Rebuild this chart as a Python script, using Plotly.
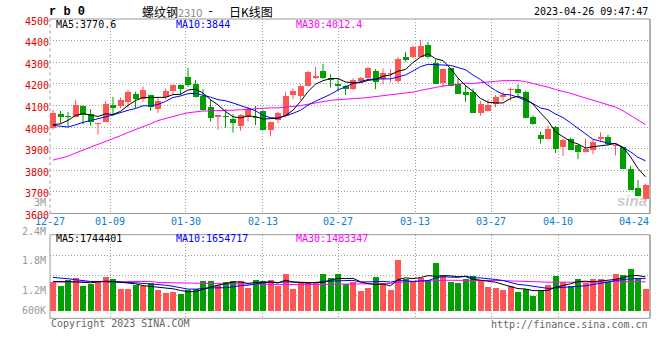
import plotly.graph_objects as go

# ---------------- data ----------------
dates = ["12-27", "12-28", "12-29", "12-30",
         "01-03", "01-04", "01-05", "01-06", "01-09", "01-10", "01-11", "01-12", "01-13",
         "01-16", "01-17", "01-18", "01-19", "01-20", "01-30", "01-31",
         "02-01", "02-02", "02-03", "02-06", "02-07", "02-08", "02-09", "02-10",
         "02-13", "02-14", "02-15", "02-16", "02-17", "02-20", "02-21", "02-22", "02-23", "02-24",
         "02-27", "02-28",
         "03-01", "03-02", "03-03", "03-06", "03-07", "03-08", "03-09", "03-10",
         "03-13", "03-14", "03-15", "03-16", "03-17", "03-20", "03-21", "03-22", "03-23", "03-24",
         "03-27", "03-28", "03-29", "03-30", "03-31",
         "04-03", "04-04", "04-06", "04-07", "04-10", "04-11", "04-12", "04-13", "04-14",
         "04-17", "04-18", "04-19", "04-20", "04-21", "04-24", "04-25", "04-26"]

opens = [3994, 4060, 4052, 4048, 4098, 4060, 4014, 4025, 4101, 4098,
         4117, 4154, 4132, 4148, 4083, 4137, 4165, 4195, 4232, 4198,
         4145, 4091, 4045, 4052, 4037, 4006, 4045, 4048, 4075, 3988,
         4032, 4052, 4148, 4145, 4191, 4225, 4260, 4228, 4198, 4191,
         4175, 4211, 4225, 4260, 4222, 4247, 4211, 4325, 4322, 4326,
         4380, 4298, 4202, 4271, 4198, 4163, 4160, 4065, 4075, 4106,
         4137, 4170, 4178, 4163, 4048, 3961, 3946, 4002, 3908, 3946,
         3915, 3885, 3895, 3943, 3953, 3911, 3908, 3808, 3717, 3666]
highs = [4080, 4075, 4071, 4125, 4100, 4083, 4020, 4121, 4140, 4137,
         4172, 4163, 4188, 4150, 4137, 4178, 4197, 4197, 4274, 4218,
         4175, 4129, 4055, 4083, 4060, 4060, 4094, 4098, 4077, 4025,
         4071, 4163, 4178, 4198, 4260, 4278, 4292, 4245, 4225, 4194,
         4225, 4232, 4278, 4268, 4272, 4268, 4325, 4348, 4378, 4403,
         4395, 4314, 4271, 4271, 4225, 4194, 4178, 4121, 4129, 4148,
         4163, 4183, 4198, 4168, 4055, 3979, 4007, 4005, 3946, 3949,
         3915, 3946, 3941, 3976, 3964, 3923, 3908, 3819, 3755, 3737]
lows = [3988, 4018, 4003, 4045, 4014, 4006, 3965, 4022, 4052, 4086,
        4090, 4086, 4117, 4075, 4065, 4129, 4148, 4148, 4186, 4137,
        4075, 4025, 3988, 3997, 3975, 3983, 4025, 4009, 3985, 3957,
        4018, 4045, 4129, 4126, 4188, 4222, 4222, 4183, 4168, 4148,
        4172, 4206, 4222, 4175, 4198, 4206, 4203, 4302, 4317, 4322,
        4317, 4198, 4183, 4191, 4152, 4117, 4065, 4052, 4072, 4091,
        4122, 4122, 4145, 4040, 4010, 3923, 3943, 3880, 3866, 3895,
        3851, 3882, 3874, 3930, 3915, 3869, 3808, 3709, 3679, 3660]
closes = [4065, 4045, 4045, 4103, 4055, 4025, 4017, 4106, 4089, 4126,
          4163, 4131, 4172, 4094, 4122, 4168, 4195, 4178, 4195, 4140,
          4080, 4040, 4055, 4045, 4018, 4055, 4083, 4042, 3988, 4025,
          4065, 4145, 4168, 4188, 4255, 4237, 4225, 4218, 4188, 4175,
          4217, 4228, 4272, 4209, 4249, 4249, 4314, 4311, 4371, 4375,
          4326, 4198, 4268, 4191, 4152, 4149, 4065, 4106, 4101, 4137,
          4148, 4172, 4157, 4040, 4014, 3945, 3989, 3900, 3938, 3895,
          3885, 3897, 3930, 3953, 3923, 3918, 3808, 3709, 3682, 3732]
volumes = [1497, 1275, 1585, 1688, 1275, 1378, 1533, 1740, 1637, 1120,
           1120, 1327, 1275, 1430, 1069, 914, 965, 862, 1069, 1120,
           1533, 1533, 1327, 1482, 1533, 1533, 1172, 1585, 1533, 1585,
           1275, 1895, 1120, 1430, 1430, 1430, 1895, 1688, 1895, 1378,
           1497, 1017, 1172, 1740, 1430, 1069, 2617, 1637, 1533, 1688,
           1585, 2463, 1791, 1482, 1430, 1637, 1791, 1533, 1224, 1172,
           1069, 1275, 965, 1120, 759, 1069, 1327, 1791, 1482, 1275,
           1637, 1430, 1637, 1637, 1482, 1895, 1843, 2165, 1688, 1120]  # thousand lots

# moving-average values at the left edge (they depend on days before the window)
ma5_head = [4011, 4015, 4031, 4054]
ma10_head = [4008, 4003, 4000, 4010, 4022, 4030, 4037, 4047, 4056]
ma30_head = [3847, 3855, 3865, 3880, 3893, 3906, 3920, 3932, 3945, 3960,
             3975, 3988, 4000, 4015, 4030, 4040, 4050, 4058, 4066, 4071,
             4074, 4075, 4075, 4077, 4078, 4080, 4083, 4086, 4088]
vma5_head = [1510, 1510, 1500, 1490]
vma10_head = [1720, 1700, 1650, 1600, 1540, 1510, 1510, 1500, 1490]
vma30_head = [1480, 1480, 1480, 1480, 1480, 1480, 1480, 1480, 1480, 1480,
              1480, 1480, 1480, 1510, 1460, 1450, 1430, 1430, 1430, 1400,
              1390, 1390, 1390, 1380, 1380, 1390, 1390, 1380, 1370]

date_ticks = ["12-27", "01-09", "01-30", "02-13", "02-27", "03-13", "03-27", "04-10", "04-24"]
price_ticks = [3600, 3700, 3800, 3900, 4000, 4100, 4200, 4300, 4400, 4500]
vol_labels = ["3M", "2.4M", "1.8M", "1.2M", "600K"]

title_code = "r b 0"
title_name = "螺纹钢"
title_contract = "2310"
title_dash = "-"
title_kind = "日K线图"
timestamp = "2023-04-26 09:47:47"
price_legend = ["MA5:3770.6", "MA10:3844", "MA30:4012.4"]
vol_legend = ["MA5:1744401", "MA10:1654717", "MA30:1483347"]


def moving_avg(vals, n, head):
    out = list(head)
    for i in range(len(head), len(vals)):
        out.append(sum(vals[i - n + 1:i + 1]) / n)
    return out


n = len(dates)
idx = list(range(n))
vols = [v * 1000 for v in volumes]
ma5 = moving_avg(closes, 5, ma5_head)
ma10 = moving_avg(closes, 10, ma10_head)
ma30 = moving_avg(closes, 30, ma30_head)
vma5 = moving_avg(vols, 5, [v * 1000 for v in vma5_head])
vma10 = moving_avg(vols, 10, [v * 1000 for v in vma10_head])
vma30 = moving_avg(vols, 30, [v * 1000 for v in vma30_head])

# ---------------- styles / layout ----------------
UP = "#ff5555"
DOWN = "#00a000"
GRID = "#a0a0a0"
BORDER = "#999999"
MONO = "DejaVu Sans Mono"
W, H = 660, 360
ML, MR = 50, 10
PW = W - ML - MR


def px(x):
    return (x - ML) / PW


def py(y):
    return 1 - y / H


up = [c >= o for o, c in zip(opens, closes)]
colors = [UP if u else DOWN for u in up]

fig = go.Figure()

# wicks
for flag, col in ((True, UP), (False, DOWN)):
    wx, wy = [], []
    for i in idx:
        if up[i] == flag:
            wx += [i, i, None]
            wy += [lows[i], highs[i], None]
    fig.add_trace(go.Scatter(x=wx, y=wy, mode="lines", line=dict(color=col, width=1),
                             hoverinfo="skip", xaxis="x", yaxis="y"))

# bodies
base = [min(o, c) for o, c in zip(opens, closes)]
hgt = [max(abs(c - o), 4) for o, c in zip(opens, closes)]
fig.add_trace(go.Bar(x=idx, y=hgt, base=base, width=0.8, marker=dict(color=colors, line=dict(width=0)),
                     xaxis="x", yaxis="y"))

# price MAs
for vals, col in ((ma30, "#ff00ff"), (ma10, "#0000ff"), (ma5, "#000000")):
    fig.add_trace(go.Scatter(x=idx, y=vals, mode="lines", line=dict(color=col, width=1),
                             xaxis="x", yaxis="y"))

# volume
fig.add_trace(go.Bar(x=idx, y=vols, width=0.8, marker=dict(color=colors, line=dict(width=0)),
                     xaxis="x2", yaxis="y2"))
for vals, col in ((vma30, "#ff00ff"), (vma10, "#0000ff"), (vma5, "#000000")):
    fig.add_trace(go.Scatter(x=idx, y=vals, mode="lines", line=dict(color=col, width=1),
                             xaxis="x2", yaxis="y2"))

grid_x = [7.6, 17.69, 27.96, 38.04, 48.27, 58.4, 67.37]
label_x = [-0.4] + grid_x + [77.44]

main_dom = [py(213.5), py(19)]
vol_dom = [py(318.3), py(234.7)]
vol_range = [-392000, 3924000]

common_x = dict(range=[-0.4, 79.6], tickvals=grid_x, showticklabels=False, showgrid=True,
                gridcolor=GRID, griddash="1px,2px", zeroline=False, showline=False, ticks="",
                automargin=False)

fig.update_layout(
    width=W, height=H, margin=dict(l=ML, r=MR, t=0, b=0, autoexpand=False),
    paper_bgcolor="white", plot_bgcolor="white", showlegend=False,
    barmode="overlay", bargap=0,
    xaxis=dict(domain=[0, 1], anchor="y", **common_x),
    yaxis=dict(domain=main_dom, range=[3600, 4500], anchor="x", tickvals=price_ticks,
               ticktext=[str(t) for t in price_ticks], showgrid=True, gridcolor=GRID,
               griddash="1px,2px", zeroline=False, showline=False, ticks="", automargin=False,
               tickfont=dict(family=MONO, size=10, color="#e00000"), ticklabelshift=2),
    xaxis2=dict(domain=[0, 1], anchor="y2", **common_x),
    yaxis2=dict(domain=vol_dom, range=vol_range, anchor="x2",
                tickvals=[774000, 1843000, 2876000], showticklabels=False, automargin=False,
                showgrid=True, gridcolor=GRID, griddash="1px,2px", zeroline=False,
                showline=False, ticks=""),
)

shapes = []
for xr, yr, left_dash in (("x domain", "y domain", "dot"), ("x2 domain", "y2 domain", "solid")):
    shapes.append(dict(type="line", xref=xr, yref=yr, x0=0, x1=1, y0=0, y1=0, line=dict(color=BORDER, width=1)))
    shapes.append(dict(type="line", xref=xr, yref=yr, x0=0, x1=1, y0=1, y1=1, line=dict(color=BORDER, width=1)))
    shapes.append(dict(type="line", xref=xr, yref=yr, x0=1, x1=1, y0=0, y1=1, line=dict(color=BORDER, width=1.5)))
    shapes.append(dict(type="line", xref=xr, yref=yr, x0=0, x1=0, y0=0, y1=1,
                       line=dict(color=BORDER, width=1, dash=left_dash)))
fig.update_layout(shapes=shapes)

ann = []
# date labels
for lx, lab in zip(label_x, date_ticks):
    ann.append(dict(x=lx, xref="x", y=py(221.7), yref="paper", text=lab, showarrow=False,
                    xanchor="center", yanchor="middle", font=dict(family=MONO, size=10, color="#0a80d0")))
# volume axis labels
for lab, yy in zip(vol_labels, [202, 231, 260.7, 290.7, 310.7]):
    ann.append(dict(x=px(47.5), xref="paper", y=py(yy), yref="paper", text=lab, showarrow=False,
                    xanchor="right", yanchor="middle", font=dict(family=MONO, size=10, color="#999999")))
# legends
for txt, xx, col in zip(price_legend, [54, 174.3, 294.3], ["#000000", "#0000ff", "#ff00ff"]):
    ann.append(dict(x=px(xx), xref="paper", y=py(24.5), yref="paper", text=txt, showarrow=False,
                    xanchor="left", yanchor="middle", font=dict(family=MONO, size=10, color=col)))
for txt, xx, col in zip(vol_legend, [54, 174.3, 294.3], ["#000000", "#0000ff", "#ff00ff"]):
    ann.append(dict(x=px(xx), xref="paper", y=py(238.5), yref="paper", text=txt, showarrow=False,
                    xanchor="left", yanchor="middle", font=dict(family=MONO, size=10, color=col)))
# title
ann.append(dict(x=px(47), xref="paper", y=py(12), yref="paper", text="<b>" + title_code + "</b>",
                showarrow=False, xanchor="left", yanchor="middle",
                font=dict(family="Liberation Mono", size=12, color="#000000")))
ann.append(dict(x=px(140), xref="paper", y=py(11), yref="paper",
                text=title_name + "<span style='color:#888888;font-size:11px'>" + title_contract + "</span>",
                showarrow=False, xanchor="left", yanchor="middle",
                font=dict(family="Noto Sans CJK SC", size=12, color="#000000")))
ann.append(dict(x=px(210), xref="paper", y=py(11), yref="paper", text=title_dash,
                showarrow=False, xanchor="center", yanchor="middle",
                font=dict(family=MONO, size=12, color="#000000")))
ann.append(dict(x=px(227), xref="paper", y=py(11), yref="paper", text=title_kind,
                showarrow=False, xanchor="left", yanchor="middle",
                font=dict(family="Noto Sans CJK SC", size=12, color="#000000")))
ann.append(dict(x=px(650), xref="paper", y=py(12), yref="paper", text=timestamp, showarrow=False,
                xanchor="right", yanchor="middle", font=dict(family=MONO, size=10, color="#000000")))
# footer
ann.append(dict(x=px(49), xref="paper", y=py(323.7), yref="paper", text="Copyright 2023 SINA.COM",
                showarrow=False, xanchor="left", yanchor="middle", font=dict(family=MONO, size=10, color="#666666")))
ann.append(dict(x=px(650), xref="paper", y=py(324), yref="paper", text="http://finance.sina.com.cn",
                showarrow=False, xanchor="right", yanchor="middle", font=dict(family=MONO, size=10, color="#666666")))
# watermark
ann.append(dict(x=px(649), xref="paper", y=py(200), yref="paper", text="<b><i>sina</i></b>",
                showarrow=False, xanchor="right", yanchor="middle",
                font=dict(family="Liberation Sans", size=15, color="rgba(170,170,170,0.6)")))
fig.update_layout(annotations=ann)

fig.write_html("out.html", config={"displayModeBar": False, "staticPlot": True},
               post_script="document.body.style.margin='0';document.body.style.padding='0';")
